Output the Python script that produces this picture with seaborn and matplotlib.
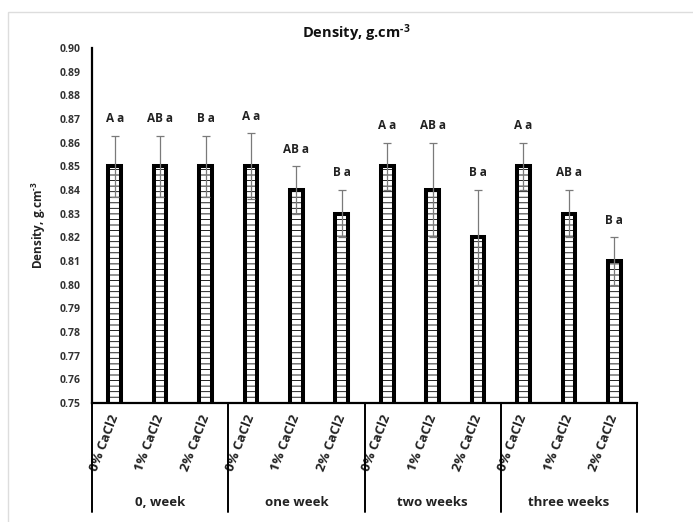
import matplotlib
matplotlib.use("Agg")
import matplotlib.pyplot as plt
import seaborn as sns
import pandas as pd
import numpy as np
from matplotlib.patches import Rectangle
import matplotlib.transforms as mtransforms

# ---- data ----
groups = ["0, week", "one week", "two weeks", "three weeks"]
treatments = ["0% CaCl2", "1% CaCl2", "2% CaCl2"]
density = [0.85, 0.85, 0.85,
           0.85, 0.84, 0.83,
           0.85, 0.84, 0.82,
           0.85, 0.83, 0.81]
errors = [0.013, 0.013, 0.013,
          0.014, 0.010, 0.010,
          0.010, 0.020, 0.020,
          0.010, 0.010, 0.010]
letters = ["A a", "AB a", "B a",
           "A a", "AB a", "B a",
           "A a", "AB a", "B a",
           "A a", "AB a", "B a"]
y_ticks = [0.75, 0.76, 0.77, 0.78, 0.79, 0.80, 0.81, 0.82, 0.83, 0.84,
           0.85, 0.86, 0.87, 0.88, 0.89, 0.90]

sns.set_theme(style="white")
plt.rcParams['font.family'] = ['Open Sans', 'DejaVu Sans']
plt.rcParams['mathtext.fontset'] = 'custom'
plt.rcParams['mathtext.rm'] = 'Open Sans:bold'
plt.rcParams['mathtext.bf'] = 'Open Sans:bold'
plt.rcParams['mathtext.it'] = 'Open Sans:bold'
plt.rcParams['hatch.color'] = '#b0b0b0'
plt.rcParams['hatch.linewidth'] = 0.6

keys = [f"{g}|{t}" for g in groups for t in treatments]
df = pd.DataFrame({"key": keys, "density": density})

fig = plt.figure(figsize=(6.93, 5.22), dpi=100)
W, H = 693, 522
ax = fig.add_axes([92 / W, 1 - 403 / H, (637 - 92) / W, (403 - 48) / H])

# light outer frame (top / left visible)
fig.patches.append(Rectangle((8 / W, -0.1), 1.2, (1 - 12 / H) + 0.1,
                             transform=fig.transFigure, fill=False,
                             edgecolor='#dddddd', linewidth=1.0))

sns.barplot(data=df, x="key", y="density", order=keys, ax=ax,
            color="white", width=0.28, edgecolor="black", linewidth=2.9,
            errorbar=None, hatch='---')

xs = [p.get_x() + p.get_width() / 2 for p in ax.patches]
ax.errorbar(xs, density, yerr=errors, fmt='none', ecolor='#7a7a7a',
            elinewidth=0.9, capsize=3, capthick=0.9, zorder=5)

for x, v, e, lab in zip(xs, density, errors, letters):
    ax.text(x, v + e + 0.0072, lab, ha='center', va='center',
            fontsize=8.5, fontweight='bold', color='#222222')

ax.set_ylim(0.75, 0.90)
ax.set_xlim(-0.5, len(keys) - 0.5)
ax.set_yticks(y_ticks)
ax.set_yticklabels([f"{t:.2f}" for t in y_ticks], fontsize=7.5,
                   fontweight='bold', color='#333333')
ax.tick_params(axis='y', length=0, pad=8)
ax.tick_params(axis='x', length=0, pad=9)
ax.set_xticks(range(len(keys)))
ax.set_xticklabels([k.split("|")[1] for k in keys], rotation=69,
                   ha='right', va='center', rotation_mode='anchor',
                   fontsize=9.5, fontweight='bold', color='#222222')
ax.set_xlabel("")
ax.set_ylabel(r"Density, g.cm$^{\text{-3}}$", fontsize=8.5, fontweight='bold',
              color='#222222')
ax.yaxis.set_label_coords(-0.08, 0.5)

for s in ['top', 'right']:
    ax.spines[s].set_visible(False)
ax.spines['left'].set_linewidth(1.6)
ax.spines['left'].set_color('black')
ax.spines['bottom'].set_linewidth(1.6)
ax.spines['bottom'].set_color('black')

# group separators and group labels
trans = mtransforms.blended_transform_factory(ax.transData, ax.transAxes)
depth = -(512 - 403) / (403 - 48)
for i in range(len(groups) + 1):
    xb = i * len(treatments) - 0.5
    ax.plot([xb, xb], [0, depth], color='black', linewidth=1.4,
            transform=trans, clip_on=False)
for i, g in enumerate(groups):
    xc = i * len(treatments) + (len(treatments) - 1) / 2
    ax.text(xc, -(503 - 403) / (403 - 48), g, transform=trans,
            ha='center', va='center', fontsize=9.5, fontweight='bold',
            color='#222222')

fig.text(356 / W, 1 - 33 / H, r"Density, g.cm$^{\text{-3}}$", ha='center',
         va='center', fontsize=10.5, fontweight='bold', color='#111111')

fig.savefig("out.png", dpi=100)
